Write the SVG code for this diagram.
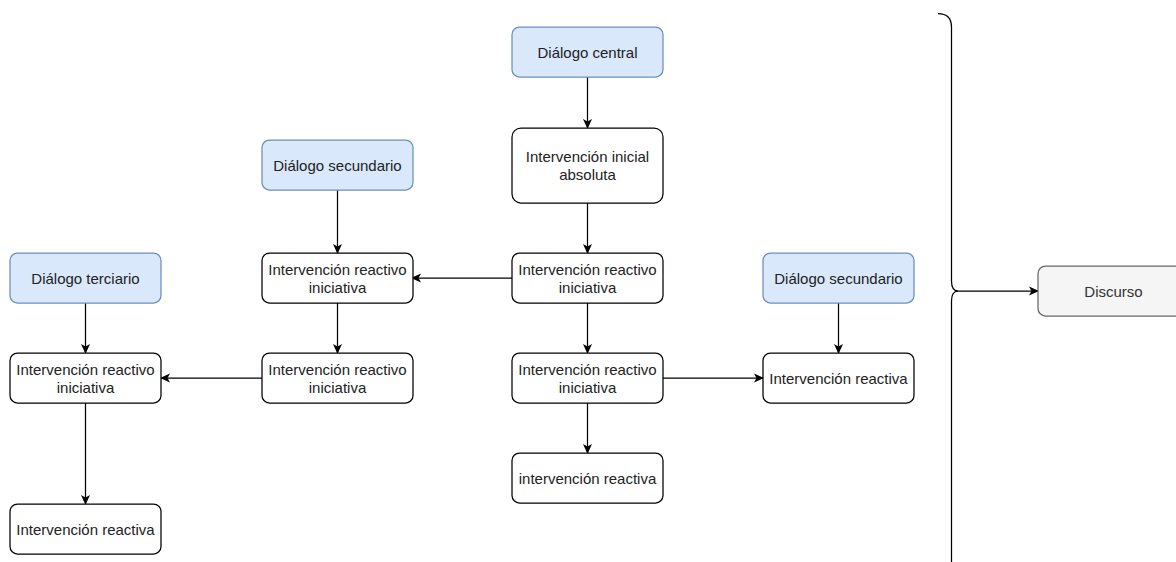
<svg xmlns="http://www.w3.org/2000/svg" width="1176" height="562" viewBox="0 0 1176 562">
  <style>
    .box { fill: #ffffff; stroke: #000000; stroke-width: 1.25; }
    .blue { fill: #dae8fc; stroke: #6c8ebf; stroke-width: 1.25; }
    .gray { fill: #f5f5f5; stroke: #666666; stroke-width: 1.25; }
    text { font-family: "Liberation Sans", Arial, sans-serif; font-size: 15px; fill: #222222; text-anchor: middle; dominant-baseline: central; }
    .muted { fill: #333333; }
    .edge { fill: none; stroke: #000000; stroke-width: 1.25; marker-end: url(#arrow); }
    .brace { fill: none; stroke: #000000; stroke-width: 1.25; }
  </style>
  <defs>
    <marker id="arrow" viewBox="0 0 10 10" refX="9" refY="5" markerWidth="10" markerHeight="10" markerUnits="userSpaceOnUse" orient="auto">
      <path d="M0,0.5 L10,5 L0,9.5 L2.5,5 Z" fill="#000000"/>
    </marker>
  </defs>
  <rect width="1176" height="562" fill="#ffffff"/>

  <!-- connectors -->
  <g id="connectors">
    <path class="edge" d="M587.5,77 V128"/>
    <path class="edge" d="M587.5,203 V253"/>
    <path class="edge" d="M587.5,303 V353"/>
    <path class="edge" d="M587.5,403 V453"/>
    <path class="edge" d="M512,278 H412"/>
    <path class="edge" d="M663,378 H763"/>
    <path class="edge" d="M337.5,190 V253"/>
    <path class="edge" d="M337.5,303 V353"/>
    <path class="edge" d="M262,378 H161"/>
    <path class="edge" d="M85.5,303 V353"/>
    <path class="edge" d="M85.5,403 V504"/>
    <path class="edge" d="M838.5,303 V353"/>
    <path class="edge" d="M956,291 H1038"/>
  </g>

  <!-- curly brace grouping the dialogue structure (lower end runs past the edge) -->
  <g id="brace">
    <path class="brace" d="M938,13.5 Q951.5,13.5 951.5,27 V281 Q951.5,291 958,291 Q951.5,291 951.5,301 V568 Q951.5,582 938,582"/>
  </g>

  <!-- central column -->
  <g id="dialogo-central">
    <rect class="blue" x="512" y="27" width="151" height="50" rx="7.5"/>
    <text x="587.5" y="52">Diálogo central</text>
  </g>
  <g id="intervencion-inicial">
    <rect class="box" x="512" y="128" width="151" height="75" rx="9"/>
    <text x="587.5" y="156.5">Intervención inicial</text>
    <text x="587.5" y="174.5">absoluta</text>
  </g>
  <g id="central-iri-1">
    <rect class="box" x="512" y="253" width="151" height="50" rx="7.5"/>
    <text x="587.5" y="269">Intervención reactivo</text>
    <text x="587.5" y="287">iniciativa</text>
  </g>
  <g id="central-iri-2">
    <rect class="box" x="512" y="353" width="151" height="50" rx="7.5"/>
    <text x="587.5" y="369">Intervención reactivo</text>
    <text x="587.5" y="387">iniciativa</text>
  </g>
  <g id="central-reactiva">
    <rect class="box" x="512" y="453" width="151" height="50" rx="7.5"/>
    <text x="587.5" y="478">intervención reactiva</text>
  </g>

  <!-- secondary dialogue (left) -->
  <g id="dialogo-secundario-izq">
    <rect class="blue" x="262" y="140" width="151" height="50" rx="7.5"/>
    <text x="337.5" y="165">Diálogo secundario</text>
  </g>
  <g id="izq-iri-1">
    <rect class="box" x="262" y="253" width="151" height="50" rx="7.5"/>
    <text x="337.5" y="269">Intervención reactivo</text>
    <text x="337.5" y="287">iniciativa</text>
  </g>
  <g id="izq-iri-2">
    <rect class="box" x="262" y="353" width="151" height="50" rx="7.5"/>
    <text x="337.5" y="369">Intervención reactivo</text>
    <text x="337.5" y="387">iniciativa</text>
  </g>

  <!-- tertiary dialogue -->
  <g id="dialogo-terciario">
    <rect class="blue" x="10" y="253" width="151" height="50" rx="7.5"/>
    <text x="85.5" y="278">Diálogo terciario</text>
  </g>
  <g id="terciario-iri">
    <rect class="box" x="10" y="353" width="151" height="50" rx="7.5"/>
    <text x="85.5" y="369">Intervención reactivo</text>
    <text x="85.5" y="387">iniciativa</text>
  </g>
  <g id="terciario-reactiva">
    <rect class="box" x="10" y="504" width="151" height="50" rx="7.5"/>
    <text x="85.5" y="529">Intervención reactiva</text>
  </g>

  <!-- secondary dialogue (right) -->
  <g id="dialogo-secundario-der">
    <rect class="blue" x="763" y="253" width="151" height="50" rx="7.5"/>
    <text x="838.5" y="278">Diálogo secundario</text>
  </g>
  <g id="der-reactiva">
    <rect class="box" x="763" y="353" width="151" height="50" rx="7.5"/>
    <text x="838.5" y="378">Intervención reactiva</text>
  </g>

  <!-- result -->
  <g id="discurso">
    <rect class="gray" x="1038" y="266" width="151" height="50" rx="7.5"/>
    <text class="muted" x="1113.5" y="291">Discurso</text>
  </g>
</svg>
